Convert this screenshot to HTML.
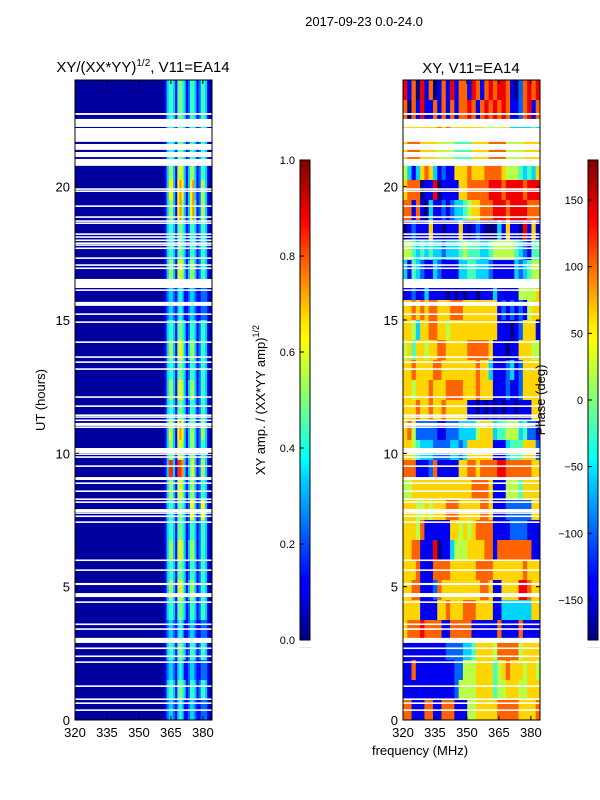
<!DOCTYPE html>
<html><head><meta charset="utf-8"><style>
body{margin:0;background:#fff;}
svg{display:block;font-family:"Liberation Sans","DejaVu Sans",sans-serif;}
</style></head><body>
<svg id="fig" width="600" height="800" viewBox="0 0 600 800">
<defs>
<linearGradient id="jetV" x1="0" y1="1" x2="0" y2="0">
<stop offset="0" stop-color="#00007f"/><stop offset="0.11" stop-color="#0000ff"/><stop offset="0.125" stop-color="#0000ff"/><stop offset="0.34" stop-color="#00d4ff"/><stop offset="0.375" stop-color="#00ffff"/><stop offset="0.5" stop-color="#7dff7a"/><stop offset="0.625" stop-color="#ffff00"/><stop offset="0.66" stop-color="#ffe600"/><stop offset="0.875" stop-color="#ff0000"/><stop offset="1" stop-color="#7f0000"/>
</linearGradient>
</defs>
<text x="364" y="26" font-size="13" text-anchor="middle">2017-09-23 0.0-24.0</text>
<g id="left"></g>
<g id="right"></g>
<g id="axes"></g>
</svg>
<script>
const freqStart = 320, freqEnd = 384.3, tStart = 0, tEnd = 24;
const xTicks = [320, 335, 350, 365, 380];
const yTicks = [0, 5, 10, 15, 20];
const ampTicks = ["0.0", "0.2", "0.4", "0.6", "0.8", "1.0"];
const phaseTicks = [-150, -100, -50, 0, 50, 100, 150];
const leftHeadValue = 0;
const leftTailStart = 362;
const leftTailRows = [
"1344314543124431244310","1344314543124431244310","1344314543124431244310","1344314543124431244310",
"1355315653135531244310","1366316763136731255310","1355316753136741255310","1344314543124431244310",
"1344314543124431244310","1355315653135531244310","1233213431123321122210","1233213431123321122210",
"1344314543124431244310","1355315653135531244310","1344314543124431244310","1355315653135531244310",
"1344314543124431244310","1365316763135531255310","1355315653135531244310","1388318873135631255310",
"1355315653135531244310","1344314543126631266310","1344314543124431244310","1355315653135531244310",
"1344314543124431244310","1355315653135531244310","1344314543124431244310","1233213431123321122210",
"1344314543124431244310","1233213431123321122210","1344314543124431244310","1233213431123321122210"];
const phaseRows = [
"81708170171817718717878871027878","70718117171717787178787871127817","66666666767666666665555653333343","67776666555544446666777755556666",
"53136763121166676667777655543436","67770118011116677777888788887888","77171031121233456677788878888777","01211161101116101210003161108161",
"55434343323334544433455555432144","31432113211113344333211111323455","11211311110101011011131111155556","66767677666777666666661212121566",
"66536677665666666666661110126661","56466566776666677777611101166655","66766667766666666766311123126666","66566676667777666766611121126666",
"66676676676666611010101011011166","67522222112223333566634455534221","66543332222332366666611134446662","77711127111116677677778877777766",
"55666666666666667777611155546666","66655656667776666677611122222266","66657111111665656777711112222111","66771118011355566667717777777711",
"66671117777666666777766666667666","66771112766666666677611666688766","66661111667666777666611333333366","67778777711777771111117111171111",
"11111111112222334666657777756666","11711111111122555666645676665665","11111111111125555666645566655666","77111771177711155666667777766667"];
const flagStarts = [22.69,22.24,21.68,21.38,21.11,20.78,19.88,19.8,19.24,18.83,18.68,18.6,18.19,18.08,17.96,17.85,17.78,17.66,17.29,17.03,16.91,16.24,16.2,16.09,15.53,15.19,14.89,14.14,13.58,13.39,13.13,12.08,11.74,11.4,11.33,11.21,11.03,10.95,10.01,9.94,9.83,9.49,9.0,8.85,8.55,8.25,8.14,7.8,7.73,7.61,7.39,5.96,5.59,5.06,4.61,4.39,3.56,3.38,2.89,2.66,2.36,2.14,1.24,0.75,0.6,0.34];
const flagEnds   = [22.76,22.54,22.2,21.6,21.3,21.04,19.94,19.86,19.3,18.89,18.74,18.66,18.25,18.14,18.02,17.91,17.84,17.72,17.35,17.09,16.97,16.54,16.26,16.15,15.68,15.25,14.95,14.2,13.64,13.45,13.19,12.14,11.8,11.46,11.39,11.27,11.14,11.01,10.2,10.0,9.89,9.55,9.11,8.91,8.61,8.31,8.2,7.91,7.79,7.67,7.45,6.02,5.65,5.14,4.76,4.45,3.62,3.44,3.08,2.72,2.42,2.2,1.3,0.81,0.66,0.4];

const NS = "http://www.w3.org/2000/svg";
function jet(v){
  v=Math.max(0,Math.min(1,v));
  const r=Math.max(0,Math.min(1,Math.min(4*v-1.5,-4*v+4.5)));
  const g=Math.max(0,Math.min(1,Math.min(4*v-0.5,-4*v+3.5)));
  const b=Math.max(0,Math.min(1,Math.min(4*v+0.5,-4*v+2.5)));
  return `rgb(${Math.round(r*255)},${Math.round(g*255)},${Math.round(b*255)})`;
}
function mk(tag, attrs, parent){const e=document.createElementNS(NS,tag);for(const k in attrs)e.setAttribute(k,attrs[k]);parent.appendChild(e);return e;}
const panels = {left:{x0:75,x1:212}, right:{x0:403,x1:540}};
const Y0=720, Y1=80;
function yS(t){return Y0+(t-tStart)/(tEnd-tStart)*(Y1-Y0);}
function xS(p,f){return p.x0+(f-freqStart)/(freqEnd-freqStart)*(p.x1-p.x0);}

const L=document.getElementById('left'), P=panels.left;
const nRowsL=leftTailRows.length, dt=(tEnd-tStart)/nRowsL;
leftTailRows.forEach((row,i)=>{
  const tTop=tEnd-i*dt, y=yS(tTop), h=yS(tTop-dt)-y;
  const hd=mk('rect',{x:P.x0,y:y,width:xS(P,leftTailStart)-P.x0+0.3,height:h+0.3,fill:jet(0.03+leftHeadValue/9)},L);
  
  
  for(let j=0;j<row.length;j++){
    const f0=leftTailStart+j, x=xS(P,f0), w=xS(P,f0+1)-x;
    const c=mk('rect',{x:x,y:y,width:w+0.3,height:h+0.3,fill:jet(0.03+(+row[j])/9*0.9)},L);
    
    
  }
});
const R=document.getElementById('right'), Q=panels.right;
const nRowsR=phaseRows.length, dtR=(tEnd-tStart)/nRowsR;
phaseRows.forEach((row,i)=>{
  const tTop=tEnd-i*dtR, y=yS(tTop), h=yS(tTop-dtR)-y;
  const df=(freqEnd-freqStart)/row.length;
  for(let j=0;j<row.length;j++){
    const x=xS(Q,freqStart+j*df), w=xS(Q,freqStart+(j+1)*df)-x;
    const c=mk('rect',{x:x,y:y,width:w+0.3,height:h+0.3,fill:jet((+row[j])/9)},R);
    
    
  }
});
[[L,P],[R,Q]].forEach(([g,p])=>{
  flagStarts.forEach((s,i)=>{
    const y=yS(flagEnds[i]), h=Math.max(1.2,yS(s)-y);
    const f=mk('rect',{x:p.x0,y:y,width:p.x1-p.x0,height:h,fill:'#fff'},g);
    
    
  });
});
const A=document.getElementById('axes');
function txt(s,attrs){const t=mk('text',attrs,A);t.textContent=s;return t;}
[P,Q].forEach((p,k)=>{
  const fr=mk('rect',{x:p.x0,y:Y1,width:p.x1-p.x0,height:Y0-Y1,fill:'none',stroke:'#000','stroke-width':1},A);
  
  
  xTicks.forEach(v=>{
    const x=xS(p,v);
    mk('line',{x1:x,y1:Y0,x2:x,y2:Y0-4,stroke:'#000'},A);
    mk('line',{x1:x,y1:Y1,x2:x,y2:Y1+4,stroke:'#000'},A);
    const t=txt(String(v),{x:x,y:Y0+17,'font-size':13,'text-anchor':'middle'});
    
    
  });
  yTicks.forEach(v=>{
    const y=yS(v);
    mk('line',{x1:p.x0,y1:y,x2:p.x0+4,y2:y,stroke:'#000'},A);
    mk('line',{x1:p.x1,y1:y,x2:p.x1-4,y2:y,stroke:'#000'},A);
    const t=txt(String(v),{x:p.x0-5,y:y+5,'font-size':13,'text-anchor':'end'});
    
    
  });
});
const t1=txt('',{x:143,y:72,'font-size':15,'text-anchor':'middle'});
t1.innerHTML='XY/(XX*YY)<tspan dy="-6" font-size="10">1/2</tspan><tspan dy="6">, V11=EA14</tspan>';


const t2=txt('XY, V11=EA14',{x:471,y:73,'font-size':15,'text-anchor':'middle'});


const yl=txt('UT (hours)',{x:0,y:0,'font-size':13,'text-anchor':'middle',transform:'translate(45,400) rotate(-90)'});


const xl=txt('frequency (MHz)',{x:420,y:755,'font-size':13,'text-anchor':'middle'});


const CB=[{x:300,name:'amp-colorbar'},{x:588,name:'phase-colorbar'}];
CB.forEach(c=>{
  const r=mk('rect',{x:c.x,y:160,width:10,height:480,fill:'url(#jetV)',stroke:'#000','stroke-width':1},A);
  
  
  txt('.......',{x:c.x+5,y:648,'font-size':6,fill:'#999','text-anchor':'middle'});
});
ampTicks.forEach((s,i)=>{
  const y=640-i/(ampTicks.length-1)*480;
  mk('line',{x1:300,y1:y,x2:304,y2:y,stroke:'#000'},A);
  const t=txt(s,{x:295,y:y+4,'font-size':11,'text-anchor':'end'});
  
  
});
phaseTicks.forEach(v=>{
  const y=640-(v+180)/360*480;
  mk('line',{x1:588,y1:y,x2:592,y2:y,stroke:'#000'},A);
  const t=txt(v<0?'\u2212'+(-v):String(v),{x:583,y:y+4,'font-size':11,'text-anchor':'end'});
  
  
});
const cl=txt('',{x:0,y:0,'font-size':13,'text-anchor':'middle',transform:'translate(265,400) rotate(-90)'});
cl.innerHTML='XY amp. / (XX*YY amp)<tspan dy="-6" font-size="9">1/2</tspan>';


const pl=txt('Phase (deg)',{x:0,y:0,'font-size':13,'text-anchor':'middle',transform:'translate(545,400) rotate(-90)'});


</script>
</body></html>
